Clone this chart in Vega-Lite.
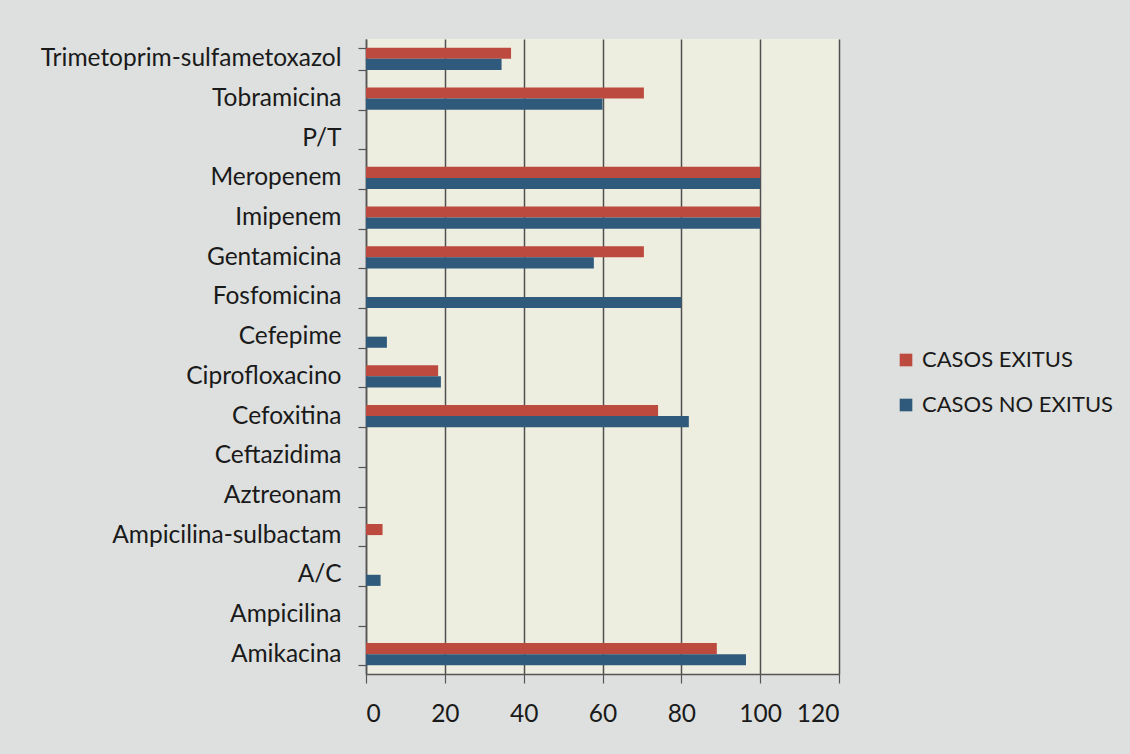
{
  "$schema": "https://vega.github.io/schema/vega-lite/v6.json",
  "width": 473,
  "height": 635,
  "autosize": {"type": "none"},
  "padding": {"left": 366, "top": 39, "right": 291, "bottom": 80},
  "background": "#dde0de",
  "config": {
    "font": "Lato",
    "view": {"fill": "#eeeee0", "stroke": null}
  },
  "data": {
    "values": [
      {"farmaco": "Trimetoprim-sulfametoxazol", "serie": "CASOS EXITUS", "valor": 36.8},
      {"farmaco": "Trimetoprim-sulfametoxazol", "serie": "CASOS NO EXITUS", "valor": 34.4},
      {"farmaco": "Tobramicina", "serie": "CASOS EXITUS", "valor": 70.5},
      {"farmaco": "Tobramicina", "serie": "CASOS NO EXITUS", "valor": 60},
      {"farmaco": "P/T", "serie": "CASOS EXITUS", "valor": 0},
      {"farmaco": "P/T", "serie": "CASOS NO EXITUS", "valor": 0},
      {"farmaco": "Meropenem", "serie": "CASOS EXITUS", "valor": 100},
      {"farmaco": "Meropenem", "serie": "CASOS NO EXITUS", "valor": 100},
      {"farmaco": "Imipenem", "serie": "CASOS EXITUS", "valor": 100},
      {"farmaco": "Imipenem", "serie": "CASOS NO EXITUS", "valor": 100},
      {"farmaco": "Gentamicina", "serie": "CASOS EXITUS", "valor": 70.5},
      {"farmaco": "Gentamicina", "serie": "CASOS NO EXITUS", "valor": 57.8},
      {"farmaco": "Fosfomicina", "serie": "CASOS EXITUS", "valor": 0},
      {"farmaco": "Fosfomicina", "serie": "CASOS NO EXITUS", "valor": 80},
      {"farmaco": "Cefepime", "serie": "CASOS EXITUS", "valor": 0},
      {"farmaco": "Cefepime", "serie": "CASOS NO EXITUS", "valor": 5.3},
      {"farmaco": "Ciprofloxacino", "serie": "CASOS EXITUS", "valor": 18.3},
      {"farmaco": "Ciprofloxacino", "serie": "CASOS NO EXITUS", "valor": 19},
      {"farmaco": "Cefoxitina", "serie": "CASOS EXITUS", "valor": 74.1},
      {"farmaco": "Cefoxitina", "serie": "CASOS NO EXITUS", "valor": 81.9},
      {"farmaco": "Ceftazidima", "serie": "CASOS EXITUS", "valor": 0},
      {"farmaco": "Ceftazidima", "serie": "CASOS NO EXITUS", "valor": 0},
      {"farmaco": "Aztreonam", "serie": "CASOS EXITUS", "valor": 0},
      {"farmaco": "Aztreonam", "serie": "CASOS NO EXITUS", "valor": 0},
      {"farmaco": "Ampicilina-sulbactam", "serie": "CASOS EXITUS", "valor": 4.2},
      {"farmaco": "Ampicilina-sulbactam", "serie": "CASOS NO EXITUS", "valor": 0},
      {"farmaco": "A/C", "serie": "CASOS EXITUS", "valor": 0},
      {"farmaco": "A/C", "serie": "CASOS NO EXITUS", "valor": 3.7},
      {"farmaco": "Ampicilina", "serie": "CASOS EXITUS", "valor": 0},
      {"farmaco": "Ampicilina", "serie": "CASOS NO EXITUS", "valor": 0},
      {"farmaco": "Amikacina", "serie": "CASOS EXITUS", "valor": 89},
      {"farmaco": "Amikacina", "serie": "CASOS NO EXITUS", "valor": 96.4}
    ]
  },
  "mark": {"type": "bar"},
  "encoding": {
    "y": {
      "field": "farmaco",
      "type": "nominal",
      "sort": ["Trimetoprim-sulfametoxazol", "Tobramicina", "P/T", "Meropenem", "Imipenem", "Gentamicina", "Fosfomicina", "Cefepime", "Ciprofloxacino", "Cefoxitina", "Ceftazidima", "Aztreonam", "Ampicilina-sulbactam", "A/C", "Ampicilina", "Amikacina"],
      "scale": {"paddingInner": 0.44, "paddingOuter": 0.22},
      "axis": {
        "title": null,
        "tickBand": "extent",
        "tickSize": 8,
        "tickColor": "#555555",
        "tickWidth": 1.2,
        "domainColor": "#555555",
        "domainWidth": 1.5,
        "labelFontSize": 24.5,
        "labelColor": "#1a1a1a",
        "labelPadding": 17,
        "labelLimit": 0,
        "grid": false
      }
    },
    "yOffset": {
      "field": "serie",
      "type": "nominal",
      "sort": ["CASOS EXITUS", "CASOS NO EXITUS"],
      "scale": {"paddingInner": 0, "paddingOuter": 0}
    },
    "x": {
      "field": "valor",
      "type": "quantitative",
      "scale": {"domain": [0, 120], "nice": false},
      "axis": {
        "title": null,
        "values": [0, 20, 40, 60, 80, 100, 120],
        "grid": true,
        "gridColor": "#505050",
        "gridWidth": 1.5,
        "gridOpacity": 1,
        "tickSize": 9,
        "tickColor": "#555555",
        "tickWidth": 1.2,
        "domainColor": "#555555",
        "domainWidth": 1.5,
        "labelFontSize": 24.5,
        "labelColor": "#1a1a1a",
        "labelPadding": 19
      }
    },
    "color": {
      "field": "serie",
      "type": "nominal",
      "scale": {"domain": ["CASOS EXITUS", "CASOS NO EXITUS"], "range": ["#bd4a3e", "#2f5a7b"]},
      "legend": {
        "title": null,
        "orient": "none",
        "legendX": 529,
        "legendY": 310,
        "symbolType": "square",
        "symbolSize": 160,
        "symbolStrokeWidth": 0,
        "labelFontSize": 22,
        "labelColor": "#1a1a1a",
        "labelOffset": 5,
        "labelLimit": 0,
        "rowPadding": 23
      }
    }
  }
}
